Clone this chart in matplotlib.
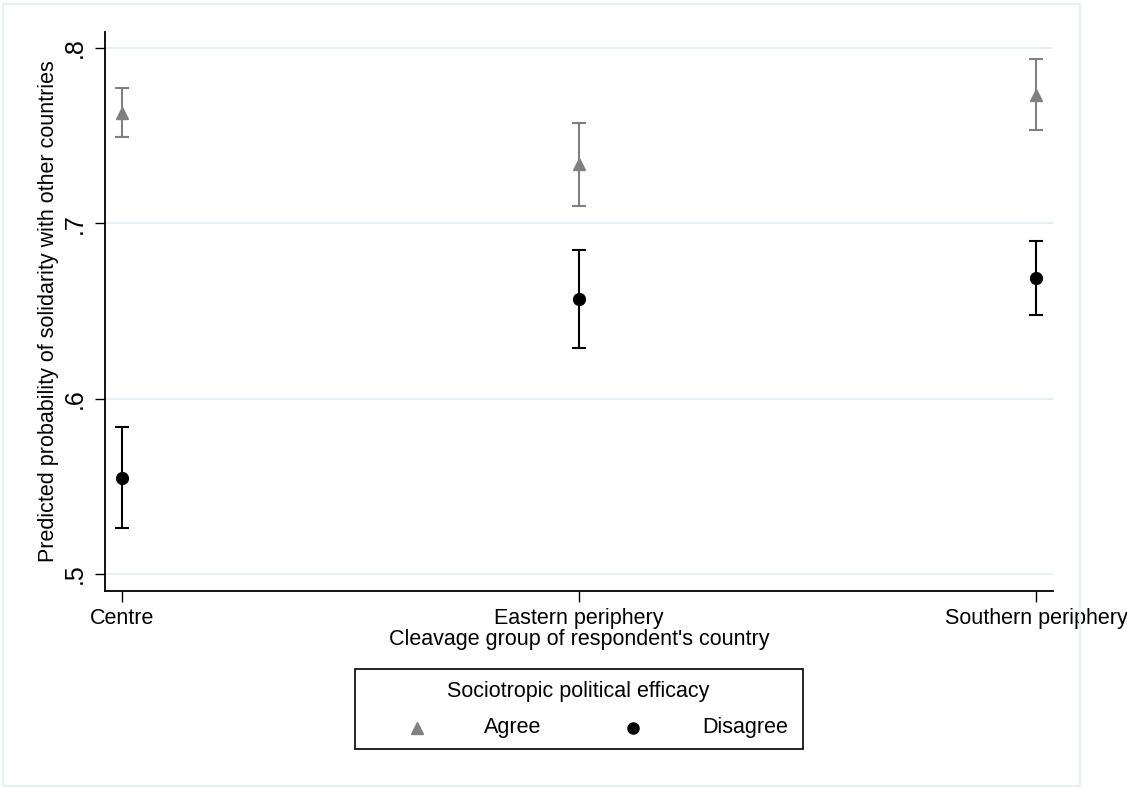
import matplotlib
matplotlib.use("Agg")
import matplotlib.pyplot as plt
from matplotlib.lines import Line2D
from matplotlib.patches import Rectangle

plt.rcParams['font.family'] = ['Liberation Sans', 'DejaVu Sans']

# data
groups = ["Centre", "Eastern periphery", "Southern periphery"]
agree_mean = [0.763, 0.734, 0.773]
agree_lo = [0.749, 0.710, 0.753]
agree_hi = [0.777, 0.757, 0.794]
disagree_mean = [0.555, 0.657, 0.669]
disagree_lo = [0.526, 0.629, 0.648]
disagree_hi = [0.584, 0.685, 0.690]
yticks = [0.5, 0.6, 0.7, 0.8]
ytick_labels = [".5", ".6", ".7", ".8"]

GRAY = "#808080"
GRID = "#e9f0f2"
W, H = 1127, 787
FS = 15.5


def px(x, y):
    # pixel position -> figure fraction
    return x / W, 1 - y / H


fig = plt.figure(figsize=(W / 100, H / 100), dpi=100)
ax = fig.add_axes([105 / W, 1 - 591 / H, (1053 - 105) / W, (591 - 32) / H])

xs = list(range(1, len(groups) + 1))
err_a = [[m - l for m, l in zip(agree_mean, agree_lo)],
         [h - m for m, h in zip(agree_mean, agree_hi)]]
err_d = [[m - l for m, l in zip(disagree_mean, disagree_lo)],
         [h - m for m, h in zip(disagree_mean, disagree_hi)]]

ax.errorbar(xs, agree_mean, yerr=err_a, fmt='^', color=GRAY, ms=9,
            elinewidth=1.5, capsize=4.7, capthick=1.5, zorder=3)
ax.errorbar(xs, disagree_mean, yerr=err_d, fmt='o', color='black', ms=8.5,
            elinewidth=1.5, capsize=4.7, capthick=1.5, zorder=3)

ax.set_xlim(1 - 17 / 457, 3 + 17 / 457)
ax.set_ylim(0.5 - 17 / 1750, 0.8 + 16 / 1750)
ax.set_xticks(xs)
ax.set_xticklabels(groups, fontsize=FS)
ax.set_yticks(yticks)
ax.set_yticklabels(ytick_labels, fontsize=18, rotation=90, va='center')
ax.yaxis.grid(True, color=GRID, lw=1.5)
ax.set_axisbelow(True)

for s in ['top', 'right']:
    ax.spines[s].set_visible(False)
for s in ['left', 'bottom']:
    ax.spines[s].set_linewidth(1.3)
ax.tick_params(axis='y', length=7, width=1, pad=6)
ax.tick_params(axis='x', length=8, width=1, pad=4)

ax.set_xlabel("Cleavage group of respondent's country", fontsize=FS, labelpad=0.5)
ax.set_ylabel("Predicted probability of solidarity with other countries",
              fontsize=FS, labelpad=3)

# legend box drawn by hand (Stata style)
x0, y0 = px(355, 749)
x1, y1 = px(803, 669)
fig.add_artist(Rectangle((x0, y0), x1 - x0, y1 - y0, transform=fig.transFigure,
                         fill=False, edgecolor='black', lw=1.2))
fig.text(*px(578, 692), "Sociotropic political efficacy", fontsize=FS,
         ha='center', va='center')
fig.add_artist(Line2D([px(417, 728)[0]], [px(417, 728)[1]], marker='^',
                      color=GRAY, ms=8, transform=fig.transFigure))
fig.text(*px(484, 728), "Agree", fontsize=FS, ha='left', va='center')
fig.add_artist(Line2D([px(633, 728)[0]], [px(633, 728)[1]], marker='o',
                      color='black', ms=8, transform=fig.transFigure))
fig.text(*px(702, 728), "Disagree", fontsize=FS, ha='left', va='center')

# outer graph region border
bx0, by0 = px(3, 786)
bx1, by1 = px(1080, 4)
fig.add_artist(Rectangle((bx0, by0), bx1 - bx0, by1 - by0, transform=fig.transFigure,
                         fill=False, edgecolor=GRID, lw=1.5))

fig.savefig("out.png", dpi=100, facecolor='white')
